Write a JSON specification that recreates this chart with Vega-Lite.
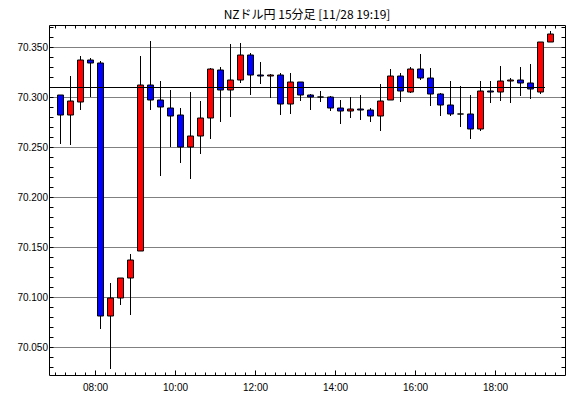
{
  "$schema": "https://vega.github.io/schema/vega-lite/v6.json",
  "width": 516,
  "height": 350,
  "autosize": "none",
  "padding": {"left": 49, "top": 25, "right": 5, "bottom": 23},
  "background": "white",
  "config": {"view": {"stroke": null}, "scale": {"continuousPadding": 0}},
  "title": {"text": "NZドル円 15分足 [11/28 19:19]", "font": "Noto Sans CJK JP", "fontSize": 12, "fontWeight": "normal", "color": "black", "anchor": "middle", "frame": "group", "offset": 2.5},
  "datasets": {
    "candles": [
      {"t": "2024-11-28T07:00", "o": 70.302, "h": 70.302, "l": 70.253, "c": 70.282},
      {"t": "2024-11-28T07:15", "o": 70.282, "h": 70.321, "l": 70.252, "c": 70.296},
      {"t": "2024-11-28T07:30", "o": 70.295, "h": 70.341, "l": 70.287, "c": 70.337},
      {"t": "2024-11-28T07:45", "o": 70.337, "h": 70.339, "l": 70.300, "c": 70.334},
      {"t": "2024-11-28T08:00", "o": 70.334, "h": 70.336, "l": 70.068, "c": 70.081},
      {"t": "2024-11-28T08:15", "o": 70.081, "h": 70.114, "l": 70.028, "c": 70.099},
      {"t": "2024-11-28T08:30", "o": 70.099, "h": 70.119, "l": 70.092, "c": 70.119},
      {"t": "2024-11-28T08:45", "o": 70.119, "h": 70.143, "l": 70.082, "c": 70.137},
      {"t": "2024-11-28T09:00", "o": 70.146, "h": 70.341, "l": 70.146, "c": 70.312},
      {"t": "2024-11-28T09:15", "o": 70.312, "h": 70.356, "l": 70.287, "c": 70.297},
      {"t": "2024-11-28T09:30", "o": 70.297, "h": 70.316, "l": 70.221, "c": 70.290},
      {"t": "2024-11-28T09:45", "o": 70.289, "h": 70.307, "l": 70.250, "c": 70.281},
      {"t": "2024-11-28T10:00", "o": 70.282, "h": 70.289, "l": 70.234, "c": 70.250},
      {"t": "2024-11-28T10:15", "o": 70.250, "h": 70.305, "l": 70.218, "c": 70.261},
      {"t": "2024-11-28T10:30", "o": 70.261, "h": 70.296, "l": 70.243, "c": 70.279},
      {"t": "2024-11-28T10:45", "o": 70.279, "h": 70.329, "l": 70.258, "c": 70.328},
      {"t": "2024-11-28T11:00", "o": 70.327, "h": 70.330, "l": 70.275, "c": 70.307},
      {"t": "2024-11-28T11:15", "o": 70.307, "h": 70.353, "l": 70.280, "c": 70.317},
      {"t": "2024-11-28T11:30", "o": 70.317, "h": 70.354, "l": 70.314, "c": 70.342},
      {"t": "2024-11-28T11:45", "o": 70.342, "h": 70.344, "l": 70.302, "c": 70.322},
      {"t": "2024-11-28T12:00", "o": 70.322, "h": 70.335, "l": 70.313, "c": 70.321},
      {"t": "2024-11-28T12:15", "o": 70.321, "h": 70.323, "l": 70.299, "c": 70.322},
      {"t": "2024-11-28T12:30", "o": 70.322, "h": 70.324, "l": 70.282, "c": 70.293},
      {"t": "2024-11-28T12:45", "o": 70.293, "h": 70.324, "l": 70.283, "c": 70.315},
      {"t": "2024-11-28T13:00", "o": 70.315, "h": 70.315, "l": 70.296, "c": 70.302},
      {"t": "2024-11-28T13:15", "o": 70.302, "h": 70.303, "l": 70.287, "c": 70.300},
      {"t": "2024-11-28T13:30", "o": 70.300, "h": 70.306, "l": 70.295, "c": 70.300},
      {"t": "2024-11-28T13:45", "o": 70.300, "h": 70.301, "l": 70.286, "c": 70.289},
      {"t": "2024-11-28T14:00", "o": 70.289, "h": 70.297, "l": 70.273, "c": 70.286},
      {"t": "2024-11-28T14:15", "o": 70.286, "h": 70.300, "l": 70.279, "c": 70.288},
      {"t": "2024-11-28T14:30", "o": 70.288, "h": 70.302, "l": 70.277, "c": 70.287},
      {"t": "2024-11-28T14:45", "o": 70.287, "h": 70.289, "l": 70.275, "c": 70.281},
      {"t": "2024-11-28T15:00", "o": 70.281, "h": 70.313, "l": 70.266, "c": 70.296},
      {"t": "2024-11-28T15:15", "o": 70.297, "h": 70.328, "l": 70.297, "c": 70.321},
      {"t": "2024-11-28T15:30", "o": 70.321, "h": 70.324, "l": 70.295, "c": 70.306},
      {"t": "2024-11-28T15:45", "o": 70.305, "h": 70.330, "l": 70.304, "c": 70.328},
      {"t": "2024-11-28T16:00", "o": 70.328, "h": 70.343, "l": 70.317, "c": 70.319},
      {"t": "2024-11-28T16:15", "o": 70.319, "h": 70.329, "l": 70.291, "c": 70.303},
      {"t": "2024-11-28T16:30", "o": 70.303, "h": 70.304, "l": 70.281, "c": 70.292},
      {"t": "2024-11-28T16:45", "o": 70.292, "h": 70.316, "l": 70.281, "c": 70.283},
      {"t": "2024-11-28T17:00", "o": 70.283, "h": 70.311, "l": 70.270, "c": 70.283},
      {"t": "2024-11-28T17:15", "o": 70.283, "h": 70.302, "l": 70.258, "c": 70.268},
      {"t": "2024-11-28T17:30", "o": 70.268, "h": 70.316, "l": 70.266, "c": 70.306},
      {"t": "2024-11-28T17:45", "o": 70.306, "h": 70.316, "l": 70.294, "c": 70.305},
      {"t": "2024-11-28T18:00", "o": 70.305, "h": 70.331, "l": 70.296, "c": 70.316},
      {"t": "2024-11-28T18:15", "o": 70.316, "h": 70.319, "l": 70.294, "c": 70.317},
      {"t": "2024-11-28T18:30", "o": 70.317, "h": 70.330, "l": 70.301, "c": 70.314},
      {"t": "2024-11-28T18:45", "o": 70.314, "h": 70.333, "l": 70.298, "c": 70.308},
      {"t": "2024-11-28T19:00", "o": 70.305, "h": 70.355, "l": 70.303, "c": 70.355},
      {"t": "2024-11-28T19:15", "o": 70.355, "h": 70.366, "l": 70.355, "c": 70.363}
    ],
    "refline": [
      {"start": "2024-11-28T06:51", "end": "2024-11-28T19:15", "level": 70.3095}
    ]
  },
  "data": {"name": "candles"},
  "resolve": {"axis": {"x": "independent", "y": "independent"}},
  "layer": [
    {
      "mark": {"type": "rule", "color": "black", "strokeWidth": 1, "xOffset": 5.5},
      "encoding": {
        "x": {"field": "t", "type": "temporal",
          "scale": {"domain": [{"year": 2024, "month": 11, "date": 28, "hours": 6, "minutes": 51}, {"year": 2024, "month": 11, "date": 28, "hours": 19, "minutes": 45}], "nice": false, "padding": 0},
          "axis": {"orient": "bottom", "title": null, "grid": false, "domain": true, "domainColor": "black", "domainWidth": 1,
            "ticks": false, "tickSize": 0,
            "values": [
              {"year": 2024, "month": 11, "date": 28, "hours": 8, "minutes": 0},
              {"year": 2024, "month": 11, "date": 28, "hours": 10, "minutes": 0},
              {"year": 2024, "month": 11, "date": 28, "hours": 12, "minutes": 0},
              {"year": 2024, "month": 11, "date": 28, "hours": 14, "minutes": 0},
              {"year": 2024, "month": 11, "date": 28, "hours": 16, "minutes": 0},
              {"year": 2024, "month": 11, "date": 28, "hours": 18, "minutes": 0}],
            "format": "%H:%M",
            "labelOverlap": false, "labelFlush": false, "labelPadding": 7, "labelFont": "Liberation Sans", "labelFontSize": 10, "labelColor": "black"}},
        "y": {"field": "l", "type": "quantitative",
          "scale": {"domain": [70.022, 70.372], "nice": false, "zero": false, "padding": 0},
          "axis": {"orient": "left", "title": null, "domain": true, "domainColor": "black",
            "values": [70.05, 70.1, 70.15, 70.2, 70.25, 70.3, 70.35],
            "ticks": false, "tickSize": 0,
            "grid": true, "gridColor": "black", "gridDash": [1, 1], "gridWidth": 1,
            "format": ".3f",
            "labelOverlap": false, "labelFlush": false, "labelPadding": 1.5, "labelFont": "Liberation Sans", "labelFontSize": 10, "labelColor": "black"}},
        "y2": {"field": "h"}
      }
    },
    {
      "mark": {"type": "bar", "width": 6, "stroke": "black", "strokeWidth": 1, "xOffset": 5.5},
      "encoding": {
        "x": {"field": "t", "type": "temporal",
          "scale": {"domain": [{"year": 2024, "month": 11, "date": 28, "hours": 6, "minutes": 51}, {"year": 2024, "month": 11, "date": 28, "hours": 19, "minutes": 45}], "nice": false, "padding": 0},
          "axis": {"orient": "bottom", "title": null, "grid": false, "labels": false, "domain": false, "offset": -3,
            "tickSize": 3, "tickColor": "black",
            "values": [
              {"year": 2024, "month": 11, "date": 28, "hours": 7, "minutes": 0}, {"year": 2024, "month": 11, "date": 28, "hours": 7, "minutes": 15}, {"year": 2024, "month": 11, "date": 28, "hours": 7, "minutes": 30}, {"year": 2024, "month": 11, "date": 28, "hours": 7, "minutes": 45},
              {"year": 2024, "month": 11, "date": 28, "hours": 8, "minutes": 0}, {"year": 2024, "month": 11, "date": 28, "hours": 8, "minutes": 15}, {"year": 2024, "month": 11, "date": 28, "hours": 8, "minutes": 30}, {"year": 2024, "month": 11, "date": 28, "hours": 8, "minutes": 45},
              {"year": 2024, "month": 11, "date": 28, "hours": 9, "minutes": 0}, {"year": 2024, "month": 11, "date": 28, "hours": 9, "minutes": 15}, {"year": 2024, "month": 11, "date": 28, "hours": 9, "minutes": 30}, {"year": 2024, "month": 11, "date": 28, "hours": 9, "minutes": 45},
              {"year": 2024, "month": 11, "date": 28, "hours": 10, "minutes": 0}, {"year": 2024, "month": 11, "date": 28, "hours": 10, "minutes": 15}, {"year": 2024, "month": 11, "date": 28, "hours": 10, "minutes": 30}, {"year": 2024, "month": 11, "date": 28, "hours": 10, "minutes": 45},
              {"year": 2024, "month": 11, "date": 28, "hours": 11, "minutes": 0}, {"year": 2024, "month": 11, "date": 28, "hours": 11, "minutes": 15}, {"year": 2024, "month": 11, "date": 28, "hours": 11, "minutes": 30}, {"year": 2024, "month": 11, "date": 28, "hours": 11, "minutes": 45},
              {"year": 2024, "month": 11, "date": 28, "hours": 12, "minutes": 0}, {"year": 2024, "month": 11, "date": 28, "hours": 12, "minutes": 15}, {"year": 2024, "month": 11, "date": 28, "hours": 12, "minutes": 30}, {"year": 2024, "month": 11, "date": 28, "hours": 12, "minutes": 45},
              {"year": 2024, "month": 11, "date": 28, "hours": 13, "minutes": 0}, {"year": 2024, "month": 11, "date": 28, "hours": 13, "minutes": 15}, {"year": 2024, "month": 11, "date": 28, "hours": 13, "minutes": 30}, {"year": 2024, "month": 11, "date": 28, "hours": 13, "minutes": 45},
              {"year": 2024, "month": 11, "date": 28, "hours": 14, "minutes": 0}, {"year": 2024, "month": 11, "date": 28, "hours": 14, "minutes": 15}, {"year": 2024, "month": 11, "date": 28, "hours": 14, "minutes": 30}, {"year": 2024, "month": 11, "date": 28, "hours": 14, "minutes": 45},
              {"year": 2024, "month": 11, "date": 28, "hours": 15, "minutes": 0}, {"year": 2024, "month": 11, "date": 28, "hours": 15, "minutes": 15}, {"year": 2024, "month": 11, "date": 28, "hours": 15, "minutes": 30}, {"year": 2024, "month": 11, "date": 28, "hours": 15, "minutes": 45},
              {"year": 2024, "month": 11, "date": 28, "hours": 16, "minutes": 0}, {"year": 2024, "month": 11, "date": 28, "hours": 16, "minutes": 15}, {"year": 2024, "month": 11, "date": 28, "hours": 16, "minutes": 30}, {"year": 2024, "month": 11, "date": 28, "hours": 16, "minutes": 45},
              {"year": 2024, "month": 11, "date": 28, "hours": 17, "minutes": 0}, {"year": 2024, "month": 11, "date": 28, "hours": 17, "minutes": 15}, {"year": 2024, "month": 11, "date": 28, "hours": 17, "minutes": 30}, {"year": 2024, "month": 11, "date": 28, "hours": 17, "minutes": 45},
              {"year": 2024, "month": 11, "date": 28, "hours": 18, "minutes": 0}, {"year": 2024, "month": 11, "date": 28, "hours": 18, "minutes": 15}, {"year": 2024, "month": 11, "date": 28, "hours": 18, "minutes": 30}, {"year": 2024, "month": 11, "date": 28, "hours": 18, "minutes": 45},
              {"year": 2024, "month": 11, "date": 28, "hours": 19, "minutes": 0}, {"year": 2024, "month": 11, "date": 28, "hours": 19, "minutes": 15}, {"year": 2024, "month": 11, "date": 28, "hours": 19, "minutes": 30}]}},
        "y": {"field": "o", "type": "quantitative",
          "scale": {"domain": [70.022, 70.372], "nice": false, "zero": false, "padding": 0},
          "axis": {"orient": "left", "title": null, "grid": false, "labels": false, "domain": false, "offset": -4,
            "values": [70.03, 70.04, 70.05, 70.06, 70.07, 70.08, 70.09, 70.1, 70.11, 70.12, 70.13, 70.14, 70.15, 70.16, 70.17, 70.18, 70.19, 70.2, 70.21, 70.22, 70.23, 70.24, 70.25, 70.26, 70.27, 70.28, 70.29, 70.3, 70.31, 70.32, 70.33, 70.34, 70.35, 70.36, 70.37],
            "tickSize": 4, "tickColor": "black"}},
        "y2": {"field": "c"},
        "color": {"condition": {"test": "datum.c > datum.o", "value": "#ff0000"}, "value": "#0000ff"}
      }
    },
    {
      "data": {"name": "refline"},
      "mark": {"type": "rule", "color": "black", "strokeWidth": 1},
      "encoding": {
        "x": {"field": "start", "type": "temporal",
          "scale": {"domain": [{"year": 2024, "month": 11, "date": 28, "hours": 6, "minutes": 51}, {"year": 2024, "month": 11, "date": 28, "hours": 19, "minutes": 45}], "nice": false, "padding": 0},
          "axis": {"orient": "bottom", "title": null, "grid": false, "labels": false, "domain": false, "offset": -5,
            "tickSize": 5, "tickColor": "black",
            "values": [
              {"year": 2024, "month": 11, "date": 28, "hours": 8, "minutes": 0},
              {"year": 2024, "month": 11, "date": 28, "hours": 10, "minutes": 0},
              {"year": 2024, "month": 11, "date": 28, "hours": 12, "minutes": 0},
              {"year": 2024, "month": 11, "date": 28, "hours": 14, "minutes": 0},
              {"year": 2024, "month": 11, "date": 28, "hours": 16, "minutes": 0},
              {"year": 2024, "month": 11, "date": 28, "hours": 18, "minutes": 0}]}},
        "x2": {"field": "end"},
        "y": {"field": "level", "type": "quantitative",
          "scale": {"domain": [70.022, 70.372], "nice": false, "zero": false, "padding": 0},
          "axis": {"orient": "right", "title": null, "grid": false, "labels": false, "domain": false, "offset": -4,
            "values": [70.03, 70.04, 70.05, 70.06, 70.07, 70.08, 70.09, 70.1, 70.11, 70.12, 70.13, 70.14, 70.15, 70.16, 70.17, 70.18, 70.19, 70.2, 70.21, 70.22, 70.23, 70.24, 70.25, 70.26, 70.27, 70.28, 70.29, 70.3, 70.31, 70.32, 70.33, 70.34, 70.35, 70.36, 70.37],
            "tickSize": 4, "tickColor": "black"}}
      }
    },
    {
      "mark": {"type": "rule", "opacity": 0},
      "encoding": {
        "x": {"field": "t", "type": "temporal",
          "scale": {"domain": [{"year": 2024, "month": 11, "date": 28, "hours": 6, "minutes": 51}, {"year": 2024, "month": 11, "date": 28, "hours": 19, "minutes": 45}], "nice": false, "padding": 0},
          "axis": {"orient": "top", "title": null, "grid": false, "labels": false, "ticks": false, "domain": true, "domainColor": "black"}},
        "y": {"field": "l", "type": "quantitative",
          "scale": {"domain": [70.022, 70.372], "nice": false, "zero": false, "padding": 0},
          "axis": {"orient": "right", "title": null, "grid": false, "labels": false, "ticks": false, "domain": true, "domainColor": "black"}},
        "y2": {"field": "h"}
      }
    },
    {
      "mark": {"type": "rule", "opacity": 0},
      "encoding": {
        "x": {"field": "t", "type": "temporal",
          "scale": {"domain": [{"year": 2024, "month": 11, "date": 28, "hours": 6, "minutes": 51}, {"year": 2024, "month": 11, "date": 28, "hours": 19, "minutes": 45}], "nice": false, "padding": 0},
          "axis": {"orient": "top", "title": null, "grid": false, "labels": false, "domain": false, "offset": -3,
            "tickSize": 3, "tickColor": "black",
            "values": [
              {"year": 2024, "month": 11, "date": 28, "hours": 7, "minutes": 0}, {"year": 2024, "month": 11, "date": 28, "hours": 7, "minutes": 15}, {"year": 2024, "month": 11, "date": 28, "hours": 7, "minutes": 30}, {"year": 2024, "month": 11, "date": 28, "hours": 7, "minutes": 45},
              {"year": 2024, "month": 11, "date": 28, "hours": 8, "minutes": 0}, {"year": 2024, "month": 11, "date": 28, "hours": 8, "minutes": 15}, {"year": 2024, "month": 11, "date": 28, "hours": 8, "minutes": 30}, {"year": 2024, "month": 11, "date": 28, "hours": 8, "minutes": 45},
              {"year": 2024, "month": 11, "date": 28, "hours": 9, "minutes": 0}, {"year": 2024, "month": 11, "date": 28, "hours": 9, "minutes": 15}, {"year": 2024, "month": 11, "date": 28, "hours": 9, "minutes": 30}, {"year": 2024, "month": 11, "date": 28, "hours": 9, "minutes": 45},
              {"year": 2024, "month": 11, "date": 28, "hours": 10, "minutes": 0}, {"year": 2024, "month": 11, "date": 28, "hours": 10, "minutes": 15}, {"year": 2024, "month": 11, "date": 28, "hours": 10, "minutes": 30}, {"year": 2024, "month": 11, "date": 28, "hours": 10, "minutes": 45},
              {"year": 2024, "month": 11, "date": 28, "hours": 11, "minutes": 0}, {"year": 2024, "month": 11, "date": 28, "hours": 11, "minutes": 15}, {"year": 2024, "month": 11, "date": 28, "hours": 11, "minutes": 30}, {"year": 2024, "month": 11, "date": 28, "hours": 11, "minutes": 45},
              {"year": 2024, "month": 11, "date": 28, "hours": 12, "minutes": 0}, {"year": 2024, "month": 11, "date": 28, "hours": 12, "minutes": 15}, {"year": 2024, "month": 11, "date": 28, "hours": 12, "minutes": 30}, {"year": 2024, "month": 11, "date": 28, "hours": 12, "minutes": 45},
              {"year": 2024, "month": 11, "date": 28, "hours": 13, "minutes": 0}, {"year": 2024, "month": 11, "date": 28, "hours": 13, "minutes": 15}, {"year": 2024, "month": 11, "date": 28, "hours": 13, "minutes": 30}, {"year": 2024, "month": 11, "date": 28, "hours": 13, "minutes": 45},
              {"year": 2024, "month": 11, "date": 28, "hours": 14, "minutes": 0}, {"year": 2024, "month": 11, "date": 28, "hours": 14, "minutes": 15}, {"year": 2024, "month": 11, "date": 28, "hours": 14, "minutes": 30}, {"year": 2024, "month": 11, "date": 28, "hours": 14, "minutes": 45},
              {"year": 2024, "month": 11, "date": 28, "hours": 15, "minutes": 0}, {"year": 2024, "month": 11, "date": 28, "hours": 15, "minutes": 15}, {"year": 2024, "month": 11, "date": 28, "hours": 15, "minutes": 30}, {"year": 2024, "month": 11, "date": 28, "hours": 15, "minutes": 45},
              {"year": 2024, "month": 11, "date": 28, "hours": 16, "minutes": 0}, {"year": 2024, "month": 11, "date": 28, "hours": 16, "minutes": 15}, {"year": 2024, "month": 11, "date": 28, "hours": 16, "minutes": 30}, {"year": 2024, "month": 11, "date": 28, "hours": 16, "minutes": 45},
              {"year": 2024, "month": 11, "date": 28, "hours": 17, "minutes": 0}, {"year": 2024, "month": 11, "date": 28, "hours": 17, "minutes": 15}, {"year": 2024, "month": 11, "date": 28, "hours": 17, "minutes": 30}, {"year": 2024, "month": 11, "date": 28, "hours": 17, "minutes": 45},
              {"year": 2024, "month": 11, "date": 28, "hours": 18, "minutes": 0}, {"year": 2024, "month": 11, "date": 28, "hours": 18, "minutes": 15}, {"year": 2024, "month": 11, "date": 28, "hours": 18, "minutes": 30}, {"year": 2024, "month": 11, "date": 28, "hours": 18, "minutes": 45},
              {"year": 2024, "month": 11, "date": 28, "hours": 19, "minutes": 0}, {"year": 2024, "month": 11, "date": 28, "hours": 19, "minutes": 15}, {"year": 2024, "month": 11, "date": 28, "hours": 19, "minutes": 30}]}},
        "y": {"field": "l", "type": "quantitative",
          "scale": {"domain": [70.022, 70.372], "nice": false, "zero": false, "padding": 0},
          "axis": null},
        "y2": {"field": "h"}
      }
    }
  ]
}
